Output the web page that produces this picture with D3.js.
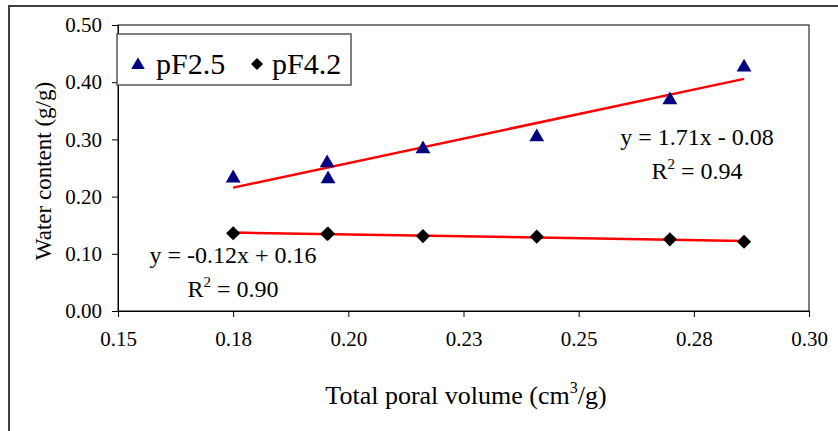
<!DOCTYPE html>
<html>
<head>
<meta charset="utf-8">
<script src="https://cdn.jsdelivr.net/npm/d3@7"></script>
<style>
  html, body { margin: 0; padding: 0; background: #fff; }
  svg, svg text { font-family: "Liberation Serif", "Times New Roman", serif !important; }
  svg { display: block; }
</style>
</head>
<body>
<svg id="chart" width="838" height="431"></svg>
<script>
// ---- data ----
const pf25X = [0.175, 0.1954, 0.1956, 0.2162, 0.2409, 0.2698, 0.2859];
const pf25Y = [0.234, 0.2605, 0.2325, 0.285, 0.306, 0.3706, 0.428];
const pf42X = [0.175, 0.1954, 0.1956, 0.2162, 0.2409, 0.2698, 0.2859];
const pf42Y = [0.136, 0.1346, 0.1352, 0.131, 0.130, 0.1253, 0.121];
const seriesNames = ["pF2.5", "pF4.2"];
const xTickValues = [0.15, 0.175, 0.2, 0.225, 0.25, 0.275, 0.30];
const xTickLabels = ["0.15", "0.18", "0.20", "0.23", "0.25", "0.28", "0.30"];
const yTickValues = [0, 0.1, 0.2, 0.3, 0.4, 0.5];
const yTickLabels = ["0.00", "0.10", "0.20", "0.30", "0.40", "0.50"];
const eq25 = ["y = 1.71x - 0.08", "0.94"];
const eq42 = ["y = -0.12x + 0.16", "0.90"];

const svg = d3.select("#chart");
const L = 118, R = 809, T = 25, B = 311;
const x = d3.scaleLinear().domain([0.15, 0.30]).range([L, R]);
const y = d3.scaleLinear().domain([0, 0.5]).range([B, T]);

// outer chart border
svg.append("rect").attr("x", 9).attr("y", 6).attr("width", 900).attr("height", 500)
  .attr("fill", "none").attr("stroke", "#404040").attr("stroke-width", 2);

// plot frame
svg.append("rect").attr("x", L).attr("y", T).attr("width", R - L).attr("height", B - T)
  .attr("fill", "none").attr("stroke", "#000").attr("stroke-width", 1);

// axes
const xAxis = d3.axisBottom(x).tickValues(xTickValues)
  .tickFormat((d, i) => xTickLabels[i]).tickSize(6).tickPadding(14);
const gx = svg.append("g").attr("transform", `translate(0,${B})`).call(xAxis);
const yAxis = d3.axisLeft(y).tickValues(yTickValues)
  .tickFormat((d, i) => yTickLabels[i]).tickSize(6).tickPadding(10);
const gy = svg.append("g").attr("transform", `translate(${L},0)`).call(yAxis);
[gx, gy].forEach(g => {
  g.attr("font-family", null).attr("font-size", 21);
  g.select(".domain").attr("stroke", "#000");
  g.selectAll(".tick line").attr("stroke", "#000");
  g.selectAll("text").attr("font-size", 21).attr("fill", "#000");
});

// trendlines (least-squares fit)
function fit(xs, ys) {
  const mx = d3.mean(xs), my = d3.mean(ys);
  let sxy = 0, sxx = 0;
  xs.forEach((v, i) => { sxy += (v - mx) * (ys[i] - my); sxx += (v - mx) ** 2; });
  const m = sxy / sxx; return { m, b: my - m * mx };
}
[[pf25X, pf25Y], [pf42X, pf42Y]].forEach(([xs, ys]) => {
  const f = fit(xs, ys);
  const x0 = d3.min(xs), x1 = d3.max(xs);
  svg.append("line")
    .attr("x1", x(x0)).attr("y1", y(f.m * x0 + f.b))
    .attr("x2", x(x1)).attr("y2", y(f.m * x1 + f.b))
    .attr("stroke", "#ff0000").attr("stroke-width", 2.5);
});

// markers
const tri = d3.symbol().type(d3.symbolTriangle).size(95);
const dia = d3.symbol().type(d3.symbolSquare).size(100);
svg.append("g").selectAll("path").data(pf25X.map((v, i) => [v, pf25Y[i]])).join("path")
  .attr("d", tri).attr("fill", "#000080")
  .attr("transform", d => `translate(${x(d[0])},${y(d[1]) + 1})`);
svg.append("g").selectAll("path").data(pf42X.map((v, i) => [v, pf42Y[i]])).join("path")
  .attr("d", dia).attr("fill", "#000")
  .attr("transform", d => `translate(${x(d[0])},${y(d[1])}) rotate(45)`);

// equations
function eq(xc, yb, lines) {
  svg.append("text").attr("x", xc).attr("y", yb).attr("text-anchor", "middle")
    .attr("font-size", 24).attr("fill", "#000").text(lines[0]);
  const t = svg.append("text").attr("x", xc).attr("y", yb + 34).attr("text-anchor", "middle")
    .attr("font-size", 24).attr("fill", "#000");
  t.append("tspan").text("R");
  t.append("tspan").attr("font-size", 15).attr("dy", -10).text("2");
  t.append("tspan").attr("dy", 10).text(" = " + lines[1]);
}
eq(697, 145, eq25);
eq(233, 263, eq42);

// legend
const lg = svg.append("g");
lg.append("rect").attr("x", 117).attr("y", 34).attr("width", 234).attr("height", 51)
  .attr("fill", "#fff").attr("stroke", "#555").attr("stroke-width", 1.5);
lg.append("path").attr("d", d3.symbol().type(d3.symbolTriangle).size(80)).attr("fill", "#000080")
  .attr("transform", "translate(138,65)");
lg.append("text").attr("x", 156).attr("y", 74).attr("font-size", 30).attr("fill", "#000").text(seriesNames[0]);
lg.append("path").attr("d", d3.symbol().type(d3.symbolSquare).size(72)).attr("fill", "#000")
  .attr("transform", "translate(257,64) rotate(45)");
lg.append("text").attr("x", 272).attr("y", 74).attr("font-size", 30).attr("fill", "#000").text(seriesNames[1]);

// axis titles
const xt = svg.append("text").attr("x", 466).attr("y", 404).attr("text-anchor", "middle")
  .attr("font-size", 26).attr("fill", "#000");
xt.append("tspan").text("Total poral volume (cm");
xt.append("tspan").attr("font-size", 16).attr("dy", -11).text("3");
xt.append("tspan").attr("dy", 11).text("/g)");

svg.append("text").attr("transform", "translate(51,171) rotate(-90)").attr("text-anchor", "middle")
  .attr("font-size", 23).attr("fill", "#000").text("Water content (g/g)");
</script>
</body>
</html>
